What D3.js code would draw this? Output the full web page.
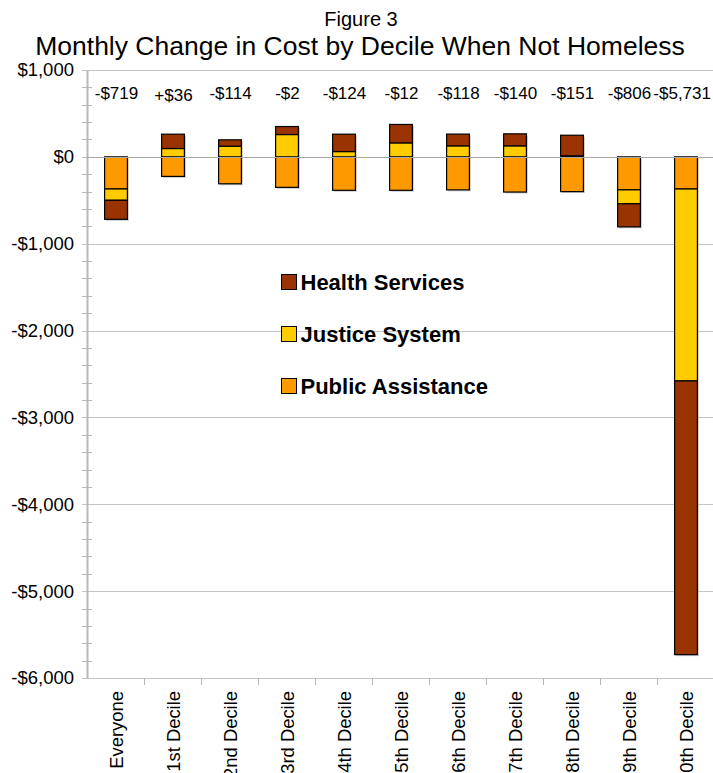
<!DOCTYPE html>
<html lang="en">
<head>
<meta charset="UTF-8">
<title>Figure 3</title>
<script src="https://cdn.jsdelivr.net/npm/d3@7"></script>
<style>
  body { margin: 0; background: #fff; }
  svg text { font-family: "Liberation Sans", Arial, sans-serif; fill: #000; }
</style>
</head>
<body>
<div id="chart"></div>
<script>
// chart data
const categories = ["Everyone", "1st Decile", "2nd Decile", "3rd Decile", "4th Decile", "5th Decile",
  "6th Decile", "7th Decile", "8th Decile", "9th Decile", "10th Decile"];
const publicAssistance = [-370, -225, -310, -351, -385, -385, -380, -405, -400, -380, -370];
const justiceSystem = [-130, 96, 123, 257, 61, 161, 127, 127, 12, -160, -2210];
const healthServices = [-219, 165, 73, 92, 200, 212, 135, 138, 237, -266, -3151];
const netLabels = ["-$719", "+$36", "-$114", "-$2", "-$124", "-$12", "-$118", "-$140", "-$151", "-$806", "-$5,731"];
const yTicks = [1000, 0, -1000, -2000, -3000, -4000, -5000, -6000];

const width = 713, height = 773;
const plotLeft = 87, plotRight = 714, plotTop = 70, plotBottom = 678;

const svg = d3.select("#chart").append("svg")
  .attr("width", width)
  .attr("height", height);

const x = d3.scaleBand().domain(categories).range([plotLeft, plotRight]);
const y = d3.scaleLinear().domain([-6000, 1000]).range([plotBottom, plotTop]);

const rows = categories.map((c, i) => ({
  cat: c,
  pa: publicAssistance[i],
  js: justiceSystem[i],
  hs: healthServices[i]
}));

const keys = ["pa", "js", "hs"];
const colors = { pa: "#FF9900", js: "#FFCC00", hs: "#993300" };
const stacked = d3.stack().keys(keys).offset(d3.stackOffsetDiverging)(rows);

// gridlines
svg.append("g")
  .selectAll("line")
  .data(yTicks)
  .join("line")
  .attr("x1", plotLeft - 5).attr("x2", plotRight)
  .attr("y1", d => Math.round(y(d)) + 0.5)
  .attr("y2", d => Math.round(y(d)) + 0.5)
  .attr("stroke", "#c4c4c4")
  .attr("stroke-width", 1);

// y axis
const yAxis = d3.axisLeft(y)
  .tickValues(yTicks)
  .tickSize(0)
  .tickFormat(d => (d < 0 ? "-$" : "$") + d3.format(",")(Math.abs(d)));
const gy = svg.append("g")
  .attr("transform", `translate(${plotLeft},0)`)
  .call(yAxis);
gy.select(".domain").attr("stroke", "#b8b8b8").attr("stroke-width", 2);
gy.selectAll(".tick text")
  .attr("x", -13)
  .style("font-size", "18.5px")
  .style("font-family", "Liberation Sans, Arial, sans-serif");

// minor ticks every 200
const minor = d3.range(-6000, 1001, 200).filter(v => v % 1000 !== 0);
svg.append("g")
  .selectAll("line")
  .data(minor)
  .join("line")
  .attr("x1", plotLeft - 5).attr("x2", plotLeft + 5)
  .attr("y1", d => Math.round(y(d)) + 0.5)
  .attr("y2", d => Math.round(y(d)) + 0.5)
  .attr("stroke", "#b8b8b8");

// category separator ticks at the bottom
svg.append("g")
  .selectAll("line")
  .data(categories.slice(1))
  .join("line")
  .attr("x1", d => Math.round(x(d)) + 0.5)
  .attr("x2", d => Math.round(x(d)) + 0.5)
  .attr("y1", plotBottom)
  .attr("y2", plotBottom + 7)
  .attr("stroke", "#b8b8b8");

// bars
const barW = x.bandwidth() * 0.4;
const barX = d => x(d.data.cat) + (x.bandwidth() - barW) / 2 + 0.5;

stacked.forEach(series => {
  // soft shadow
  svg.append("g")
    .selectAll("rect")
    .data(series.filter(d => d[1] !== d[0]))
    .join("rect")
    .attr("x", d => barX(d) + 1.5)
    .attr("y", d => y(d[1]) + 1.5)
    .attr("width", barW)
    .attr("height", d => y(d[0]) - y(d[1]))
    .attr("fill", "#999")
    .attr("opacity", 0.5);
});
stacked.forEach(series => {
  svg.append("g")
    .selectAll("rect")
    .data(series.filter(d => d[1] !== d[0]))
    .join("rect")
    .attr("x", barX)
    .attr("y", d => y(d[1]))
    .attr("width", barW)
    .attr("height", d => y(d[0]) - y(d[1]))
    .attr("fill", colors[series.key])
    .attr("stroke", "#000")
    .attr("stroke-width", 1.2);
});

// zero line
svg.append("line")
  .attr("x1", plotLeft).attr("x2", plotRight)
  .attr("y1", Math.round(y(0)) + 0.5).attr("y2", Math.round(y(0)) + 0.5)
  .attr("stroke", "#a8a8a8");

// net labels
svg.append("g")
  .selectAll("text")
  .data(categories)
  .join("text")
  .attr("x", d => x(d) + x.bandwidth() / 2 + 1)
  .attr("y", (d, i) => netLabels[i].startsWith("+") ? 101 : 99)
  .attr("text-anchor", "middle")
  .style("font-size", "17px")
  .text((d, i) => netLabels[i])
  .each(function () {
    // keep the last label inside the picture
    const b = this.getBBox();
    if (b.x + b.width > 711) {
      d3.select(this).attr("x", +d3.select(this).attr("x") - (b.x + b.width - 711));
    }
  });

// category labels, rotated
svg.append("g")
  .selectAll("text")
  .data(categories)
  .join("text")
  .attr("transform", d => `translate(${x(d) + x.bandwidth() / 2 + 7},691) rotate(-90)`)
  .attr("text-anchor", "end")
  .style("font-size", "18.4px")
  .text(d => d);

// titles
svg.append("text")
  .attr("x", 361).attr("y", 26)
  .attr("text-anchor", "middle")
  .style("font-size", "20px")
  .text("Figure 3");
svg.append("text")
  .attr("x", 360).attr("y", 55)
  .attr("text-anchor", "middle")
  .style("font-size", "26.5px")
  .text("Monthly Change in Cost by Decile When Not Homeless");

// legend
const legendItems = [
  { key: "hs", label: "Health Services" },
  { key: "js", label: "Justice System" },
  { key: "pa", label: "Public Assistance" }
];
const legend = svg.append("g").attr("transform", "translate(281.5,274.5)");
legendItems.forEach((item, i) => {
  const g = legend.append("g").attr("transform", `translate(0,${i * 52})`);
  g.append("rect")
    .attr("width", 15).attr("height", 15)
    .attr("fill", colors[item.key])
    .attr("stroke", "#000");
  g.append("text")
    .attr("x", 19).attr("y", 15.5)
    .style("font-size", "22px")
    .style("font-weight", "bold")
    .text(item.label);
});
</script>
</body>
</html>
